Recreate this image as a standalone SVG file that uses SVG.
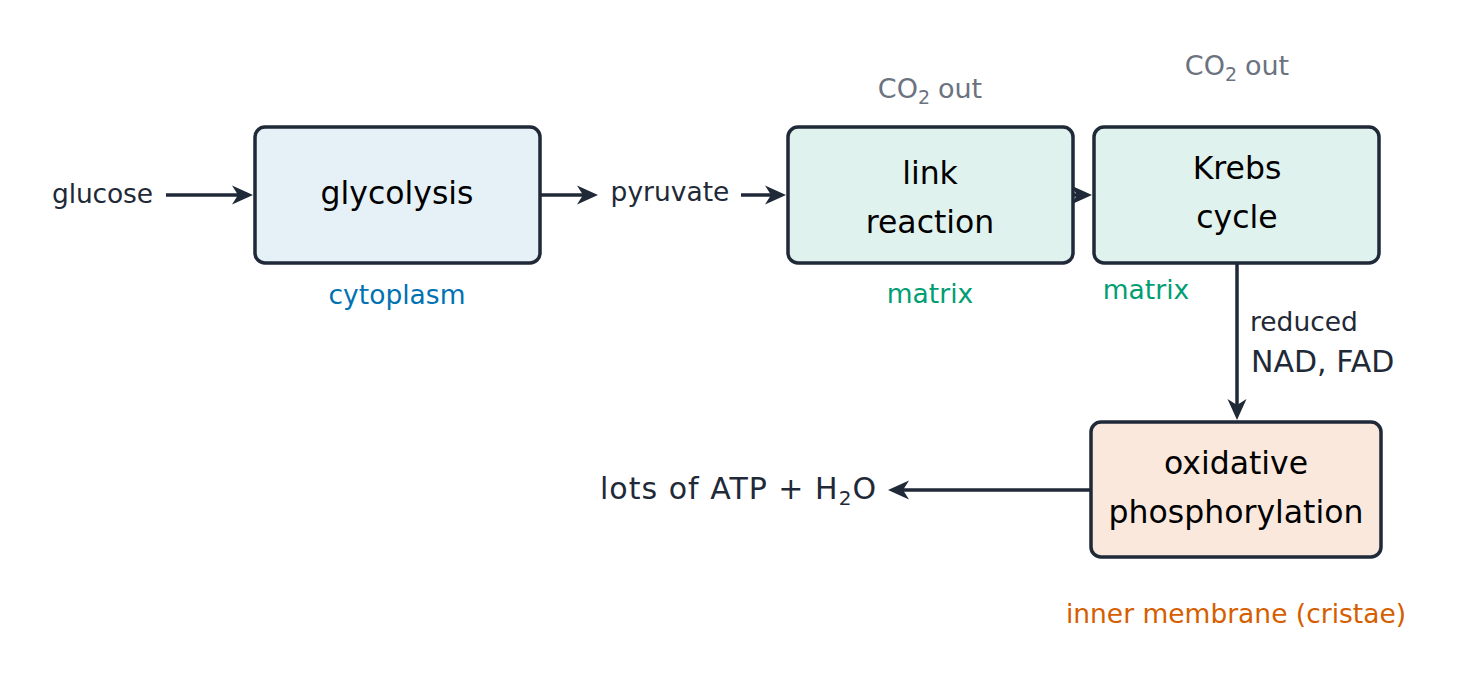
<svg xmlns="http://www.w3.org/2000/svg" width="1466" height="684" viewBox="0 0 1466 684">
<style>
.box{stroke:#1f2937;stroke-width:3.5}
.bt{font-family:"DejaVu Sans",sans-serif;font-size:31.5px;fill:#000;text-anchor:middle}
.lb{font-family:"DejaVu Sans",sans-serif;font-size:26.5px;fill:#1f2937}
.co{font-family:"DejaVu Sans",sans-serif;font-size:27px;fill:#6b7280;text-anchor:middle}
.edge{stroke:#1f2937;stroke-width:3.5;fill:none;marker-end:url(#ah)}
</style>
<defs>
<marker id="ah" markerUnits="userSpaceOnUse" markerWidth="24" markerHeight="22" refX="9" refY="9.5" orient="auto" overflow="visible">
<path d="M0,0 L21,9.5 L0,19 L6,9.5 z" fill="#1f2937"/>
</marker>
</defs>
<rect width="1466" height="684" fill="#fff"/>
<g id="connectors">
<line class="edge" x1="166" y1="195" x2="241" y2="195"/>
<line class="edge" x1="540" y1="195" x2="586" y2="195"/>
<line class="edge" x1="741" y1="195" x2="774" y2="195"/>
<line class="edge" x1="1073" y1="195" x2="1080" y2="195"/>
<line class="edge" x1="1237" y1="263" x2="1237" y2="408"/>
<line class="edge" x1="1091" y1="490" x2="900" y2="490"/>
</g>
<g id="glycolysis">
<rect class="box" x="255" y="127" width="285" height="136" rx="10" fill="#e6f0f7"/>
<text class="bt" x="397" y="204">glycolysis</text>
<text class="lb" x="397" y="304" text-anchor="middle" style="fill:#0072b2">cytoplasm</text>
</g>
<g id="link">
<rect class="box" x="788" y="127" width="285" height="136" rx="10" fill="#e0f2ee"/>
<text class="bt" x="930" y="184">link</text>
<text class="bt" x="930" y="233">reaction</text>
<text class="lb" x="930" y="303" text-anchor="middle" style="fill:#009e73">matrix</text>
<text class="co" x="930" y="98">CO<tspan font-size="19" dy="6">2</tspan><tspan dy="-6" dx="8">out</tspan></text>
</g>
<g id="krebs">
<rect class="box" x="1094" y="127" width="285" height="136" rx="10" fill="#e0f2ee"/>
<text class="bt" x="1237" y="179">Krebs</text>
<text class="bt" x="1237" y="228">cycle</text>
<text class="lb" x="1146" y="299" text-anchor="middle" style="fill:#009e73">matrix</text>
<text class="co" x="1237" y="75">CO<tspan font-size="19" dy="6">2</tspan><tspan dy="-6" dx="8">out</tspan></text>
</g>
<g id="oxphos">
<rect class="box" x="1091" y="422" width="290" height="135" rx="10" fill="#fae8dd"/>
<text class="bt" x="1236" y="474">oxidative</text>
<text class="bt" x="1236" y="523">phosphorylation</text>
<text class="lb" x="1236" y="623" text-anchor="middle" style="fill:#d55e00">inner membrane (cristae)</text>
</g>
<g id="labels">
<text class="lb" x="153" y="203" text-anchor="end" textLength="101">glucose</text>
<text class="lb" x="670" y="201" text-anchor="middle">pyruvate</text>
<text class="lb" x="1250" y="331">reduced</text>
<text class="lb" x="1251" y="372" style="font-size:30px">NAD, FAD</text>
<text class="lb" x="600" y="499" style="font-size:30px" textLength="276">lots of ATP + H<tspan font-size="20" dy="6">2</tspan><tspan dy="-6">O</tspan></text>
</g>
</svg>
